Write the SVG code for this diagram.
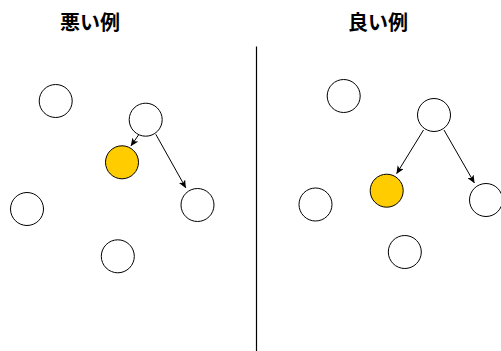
<svg xmlns="http://www.w3.org/2000/svg" width="501" height="351" viewBox="0 0 501 351">
<style>
.t{font-family:"Noto Sans CJK JP","Noto Sans",sans-serif;font-size:20px;font-weight:bold;fill:#000;text-anchor:middle}
.n{fill:#fff;stroke:#000;stroke-width:1}
.y{fill:#ffcc00;stroke:#000;stroke-width:1}
.e{fill:none;stroke:#000;stroke-width:1;marker-end:url(#a)}
</style>
<defs>
<marker id="a" viewBox="0 0 8 7" refX="7.5" refY="3.5" markerWidth="8" markerHeight="7" markerUnits="userSpaceOnUse" orient="auto">
<path d="M0,0 L8,3.5 L0,7 L2,3.5 z" fill="#000"/>
</marker>
</defs>
<rect width="501" height="351" fill="#fff"/>
<g id="title-bad"><text class="t" x="90" y="30">悪い例</text></g>
<g id="title-good"><text class="t" x="378" y="30">良い例</text></g>
<g id="divider"><line x1="256.5" y1="46.5" x2="256.5" y2="351" stroke="#000" stroke-width="1.2"/></g>
<g id="bad-a"><circle class="n" cx="55.7" cy="101" r="16.5"/></g>
<g id="bad-parent"><circle class="n" cx="145.7" cy="119.7" r="16.5"/></g>
<g id="bad-yellow"><circle class="y" cx="122" cy="162.3" r="16.5"/></g>
<g id="bad-right"><circle class="n" cx="197.5" cy="205" r="16.5"/></g>
<g id="bad-left"><circle class="n" cx="27" cy="209" r="16.5"/></g>
<g id="bad-bottom"><circle class="n" cx="117.8" cy="256.3" r="16.5"/></g>
<g id="good-a"><circle class="n" cx="343.7" cy="96" r="16.5"/></g>
<g id="good-parent"><circle class="n" cx="434" cy="115" r="16.5"/></g>
<g id="good-yellow"><circle class="y" cx="386.7" cy="190.7" r="16.5"/></g>
<g id="good-right"><circle class="n" cx="486" cy="200" r="16.5"/></g>
<g id="good-left"><circle class="n" cx="315.5" cy="204.5" r="16.5"/></g>
<g id="good-bottom"><circle class="n" cx="404.8" cy="252" r="16.5"/></g>
<g id="connectors">
<line class="e" x1="138.5" y1="135" x2="131" y2="145.8"/>
<line class="e" x1="155.8" y1="134.3" x2="185.7" y2="187.7"/>
<line class="e" x1="423.5" y1="130" x2="396.7" y2="173.5"/>
<line class="e" x1="444" y1="130" x2="474.3" y2="182.8"/>
</g>
</svg>
